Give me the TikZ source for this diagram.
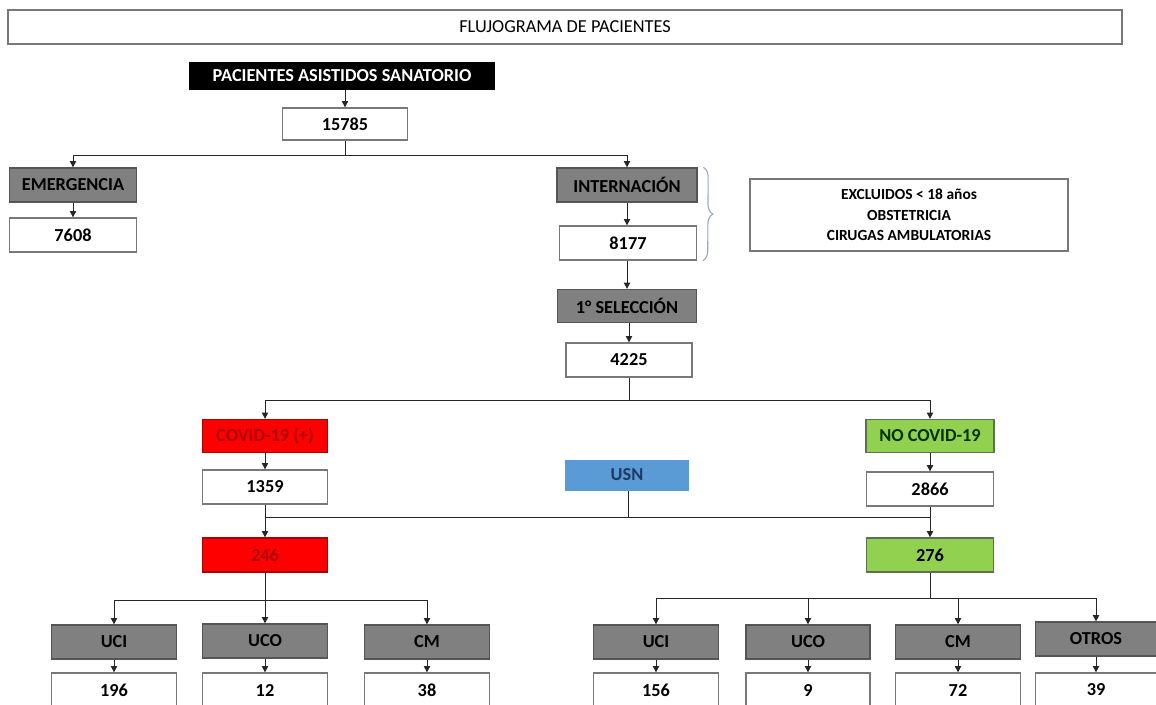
\documentclass[tikz,border=0pt]{standalone}
\usepackage{fontspec}
\setmainfont{Carlito}
\usetikzlibrary{arrows.meta,decorations.pathreplacing}

\definecolor{boxgray}{RGB}{128,128,128}
\definecolor{edgegray}{RGB}{85,85,85}
\definecolor{linegray}{RGB}{120,120,120}
\definecolor{covidred}{RGB}{255,0,0}
\definecolor{darkred}{RGB}{170,0,0}
\definecolor{nogreen}{RGB}{146,208,80}
\definecolor{usnblue}{RGB}{91,155,213}
\definecolor{navy}{RGB}{31,56,100}
\definecolor{bracecol}{RGB}{150,170,200}

\begin{document}
\begin{tikzpicture}[x=0.025cm,y=-0.025cm,
  every node/.style={font=\bfseries\fontsize{13}{15}\selectfont, inner sep=0pt},
  numbox/.style={draw=linegray, line width=0.9pt, fill=white, minimum width=3.125cm, minimum height=0.85cm},
  catbox/.style={draw=edgegray, line width=0.9pt, fill=boxgray, minimum width=3.125cm, minimum height=0.85cm},
  arr/.style={-{Triangle[width=4.5pt,length=4.5pt]}, line width=0.7pt, draw=black!85},
  link/.style={line width=0.7pt, draw=black!85}
]
\useasboundingbox (0,0) rectangle (1156,704);

\node[draw=linegray, line width=1pt, minimum width=27.85cm, minimum height=0.85cm, font=\fontsize{13}{15}\selectfont] (title) at (565,27) {FLUJOGRAMA DE PACIENTES};

\node[fill=black, text=white, minimum width=7.625cm, minimum height=0.7cm] (head) at (342,76) {PACIENTES ASISTIDOS SANATORIO};
\node[numbox, minimum height=0.8cm] (n15785) at (345,124) {15785};

\node[catbox, minimum width=3.175cm] (emerg) at (73,185) {EMERGENCIA};
\node[numbox, minimum width=3.175cm] (n7608) at (73,235) {7608};

\node[catbox, minimum width=3.5cm] (intern) at (627,185) {INTERNACIÓN};
\node[numbox, minimum width=3.425cm] (n8177) at (628,243) {8177};
\node[catbox, minimum width=3.475cm, minimum height=0.825cm] (sel) at (627,306) {1° SELECCIÓN};
\node[numbox, minimum width=3.15cm] (n4225) at (629,360) {4225};

\node[draw=linegray, line width=0.9pt, minimum width=7.95cm, minimum height=1.8cm, align=center,
  font=\bfseries\fontsize{11}{14.5}\selectfont] (excl) at (909,215)
  {EXCLUIDOS < 18 años\\OBSTETRICIA\\CIRUGAS AMBULATORIAS};

\draw[bracecol, line width=0.8pt, decorate, decoration={brace, amplitude=7pt}]
  ([xshift=4pt]intern.north east) -- ([xshift=4pt]n8177.south east);

\node[catbox, fill=covidred, draw=darkred, text=darkred, minimum height=0.825cm] (covid) at (265,436) {COVID-19 (+)};
\node[catbox, fill=nogreen, draw=edgegray!80!nogreen, text=black!80!green, minimum width=3.2cm, minimum height=0.825cm] (nocovid) at (930,436) {NO COVID-19};
\node[fill=usnblue, text=navy, minimum width=3.075cm, minimum height=0.775cm] (usn) at (627,475) {USN};
\node[numbox] (n1359) at (265,487) {1359};
\node[numbox, minimum width=3.175cm] (n2866) at (930,489) {2866};
\node[catbox, fill=covidred, draw=darkred, text=darkred] (n246) at (265,555) {246};
\node[catbox, fill=nogreen, draw=edgegray!80!nogreen, minimum width=3.175cm] (n276) at (930,555) {276};

\node[catbox] (ucia) at (114,642) {UCI};
\node[catbox] (ucoa) at (265,641) {UCO};
\node[catbox] (cma) at (427,642) {CM};
\node[numbox] (v196) at (114,690) {196};
\node[numbox] (v12) at (265,690) {12};
\node[numbox] (v38) at (427,690) {38};

\node[catbox] (ucib) at (656,642) {UCI};
\node[catbox, minimum width=3.1cm] (ucob) at (808,642) {UCO};
\node[catbox] (cmb) at (958,642) {CM};
\node[catbox, minimum width=3.025cm] (otros) at (1096,639) {OTROS};
\node[numbox] (v156) at (656,690) {156};
\node[numbox, minimum width=3.1cm] (v9) at (808,690) {9};
\node[numbox] (v72) at (958,690) {72};
\node[numbox, minimum width=3.025cm] (v39) at (1096,690) {39};

\coordinate (s1) at (345,155);
\coordinate (s2) at (629,400);
\coordinate (m1) at (628,517);
\coordinate (s3) at (265,600);
\coordinate (s4) at (930,598);

\draw[arr] (head.south -| n15785.north) -- (n15785);
\draw[link] (n15785) -- (s1);
\draw[arr] (s1) -| (emerg);
\draw[arr] (s1) -| (intern);
\draw[arr] (emerg) -- (n7608);
\draw[arr] (intern) -- (n8177.north -| intern.south);
\draw[arr] (n8177.south -| intern.south) -- (sel);
\draw[arr] (sel.south -| n4225.north) -- (n4225);

\draw[link] (n4225) -- (s2);
\draw[arr] (s2) -| (covid);
\draw[arr] (s2) -| (nocovid);
\draw[arr] (covid) -- (n1359);
\draw[arr] (nocovid) -- (n2866);

\draw[link] (n1359.south |- m1) -- (n2866.south |- m1);
\draw[link] (usn.south -| m1) -- (m1);
\draw[arr] (n1359) -- (n246);
\draw[arr] (n2866) -- (n276);

\draw[link] (n246) -- (s3);
\draw[arr] (s3) -| (ucia);
\draw[arr] (s3) -- (ucoa);
\draw[arr] (s3) -| (cma);
\draw[link] (n276) -- (s4);
\draw[arr] (s4) -| (ucib);
\draw[arr] (s4) -| (ucob);
\draw[arr] (s4) -| (cmb);
\draw[arr] (s4) -| (otros);

\draw[arr] (ucia) -- (v196);
\draw[arr] (ucoa) -- (v12);
\draw[arr] (cma) -- (v38);
\draw[arr] (ucib) -- (v156);
\draw[arr] (ucob) -- (v9);
\draw[arr] (cmb) -- (v72);
\draw[arr] (otros) -- (v39);

\end{tikzpicture}
\end{document}
